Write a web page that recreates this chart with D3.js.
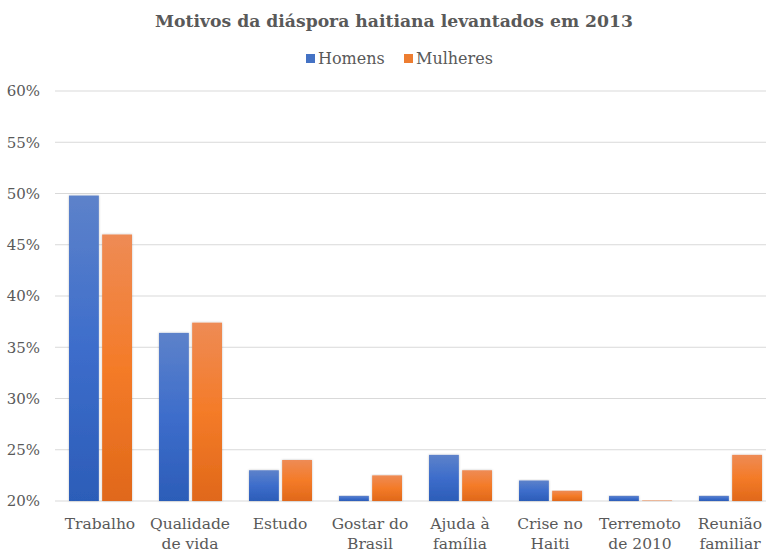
<!DOCTYPE html>
<html><head><meta charset="utf-8">
<script src="https://cdn.jsdelivr.net/npm/d3@7"></script>
<style>body{margin:0;background:#fff;}svg{display:block;}</style>
</head><body>
<script>
const categories = [["Trabalho"],["Qualidade","de vida"],["Estudo"],["Gostar do","Brasil"],["Ajuda à","família"],["Crise no","Haiti"],["Terremoto","de 2010"],["Reunião","familiar"]];
const seriesNames = ["Homens","Mulheres"];
const homens = [49.8, 36.4, 23.0, 20.5, 24.5, 22.0, 20.5, 20.5];
const mulheres = [46.0, 37.4, 24.0, 22.5, 23.0, 21.0, 20.05, 24.5];
const yTicks = [20,25,30,35,40,45,50,55,60];
const title = "Motivos da diáspora haitiana levantados em 2013";

const W=766,H=552;
const FONT="'DejaVu Serif', serif";
const svg=d3.select("body").append("svg").attr("width",W).attr("height",H);
const defs=svg.append("defs");
const gb=defs.append("linearGradient").attr("id","gBlue").attr("x1",0).attr("y1",0).attr("x2",0).attr("y2",1);
gb.append("stop").attr("offset","0%").attr("stop-color","#5d82ca");
gb.append("stop").attr("offset","50%").attr("stop-color","#3d6dcb");
gb.append("stop").attr("offset","100%").attr("stop-color","#2c5db8");
const go=defs.append("linearGradient").attr("id","gOrange").attr("x1",0).attr("y1",0).attr("x2",0).attr("y2",1);
go.append("stop").attr("offset","0%").attr("stop-color","#ee8b55");
go.append("stop").attr("offset","50%").attr("stop-color","#f47b28");
go.append("stop").attr("offset","100%").attr("stop-color","#e0681a");
const flt=defs.append("filter").attr("id","sh").attr("x","-20%").attr("y","-5%").attr("width","140%").attr("height","110%");
flt.append("feDropShadow").attr("dx",0).attr("dy",0).attr("stdDeviation",1.2).attr("flood-color","#000").attr("flood-opacity",0.25);

const x0=d3.scaleBand().domain(d3.range(categories.length)).range([55,775]);
const y=d3.scaleLinear().domain([20,60]).range([501,91]);
const x1=d3.scaleBand().domain([0,1]).range([14,77]).paddingInner(0.1);

// gridlines
svg.append("g").selectAll("line").data(yTicks).join("line")
 .attr("x1",55).attr("x2",W).attr("y1",d=>y(d)).attr("y2",d=>y(d))
 .attr("stroke","#d9d9d9").attr("stroke-width",1);

// y axis labels
const yAxis=d3.axisLeft(y).tickValues(yTicks).tickFormat(d=>d+"%").tickSize(0).tickPadding(0);
const ya=svg.append("g").attr("transform","translate(40,0)").call(yAxis);
ya.select(".domain").remove();
ya.selectAll("text").attr("font-family",FONT).attr("font-size",15).attr("fill","#595959");

// bars
const data=categories.map((c,i)=>[homens[i],mulheres[i]]);
const grp=svg.append("g").selectAll("g").data(data).join("g").attr("transform",(d,i)=>`translate(${x0(i)},0)`);
grp.selectAll("rect").data(d=>d.map((v,k)=>({v,k}))).join("rect")
 .attr("x",d=>x1(d.k)).attr("width",x1.bandwidth())
 .attr("y",d=>y(d.v)).attr("height",d=>y(20)-y(d.v))
 .attr("fill",d=>d.k===0?"url(#gBlue)":"url(#gOrange)").attr("filter","url(#sh)");

// x labels
const xl=svg.append("g").selectAll("text").data(categories).join("text")
 .attr("x",(d,i)=>x0(i)+x0.bandwidth()/2).attr("y",529)
 .attr("text-anchor","middle").attr("font-family",FONT).attr("font-size",15.5).attr("fill","#595959");
xl.selectAll("tspan").data(d=>d).join("tspan").attr("x",function(){return this.parentNode.getAttribute("x");})
 .attr("dy",(d,i)=>i===0?0:20).text(d=>d);

// title
svg.append("text").attr("x",394).attr("y",27).attr("text-anchor","middle")
 .attr("font-family",FONT).attr("font-weight","bold").attr("font-size",17.2).attr("fill","#595959").text(title);

// legend
const lg=svg.append("g");
const lx=[306,404];
seriesNames.forEach((n,i)=>{
  lg.append("rect").attr("x",lx[i]).attr("y",54).attr("width",9).attr("height",9).attr("fill",i===0?"#4472c4":"#ed7d31");
  lg.append("text").attr("x",lx[i]+12).attr("y",64).attr("font-family",FONT).attr("font-size",16).attr("fill","#595959").text(n);
});
</script>
</body></html>
